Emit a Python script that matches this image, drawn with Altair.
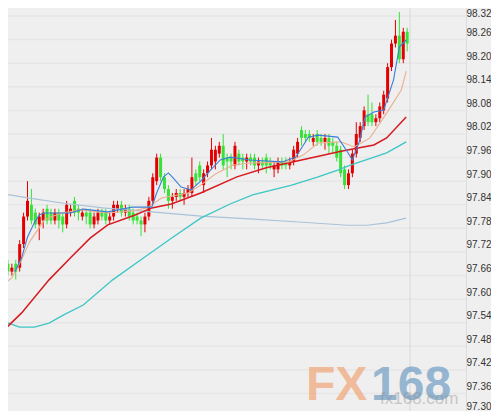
import altair as alt
import pandas as pd

# ---- candle data (index, open, high, low, close) ----
opens = [97.69, 97.67, 97.69, 97.68, 97.74, 97.81, 97.84, 97.82, 97.79, 97.80,
         97.83, 97.82, 97.80, 97.82, 97.81, 97.79, 97.82, 97.85, 97.83, 97.81,
         97.82, 97.82, 97.79, 97.80, 97.82, 97.82, 97.80, 97.81, 97.83, 97.84,
         97.82, 97.83, 97.82, 97.81, 97.80, 97.79, 97.81, 97.85, 97.90, 97.96,
         97.91, 97.88, 97.85, 97.86, 97.87, 97.86, 97.87, 97.87, 97.92, 97.94,
         97.89, 97.92, 97.94, 97.95, 97.97, 97.99, 97.96, 97.96, 97.94, 97.97,
         97.96, 97.95, 97.96, 97.96, 97.94, 97.95, 97.96, 97.95, 97.93, 97.93,
         97.95, 97.95, 97.94, 97.95, 97.97, 98.03, 98.02, 98.02, 98.00, 98.02,
         98.01, 98.00, 98.01, 98.00, 97.99, 97.98, 97.93, 97.89, 97.92, 97.97,
         98.01, 98.04, 98.07, 98.07, 98.05, 98.06, 98.08, 98.11, 98.19, 98.25,
         98.27, 98.21, 98.28]
highs = [97.70, 97.69, 97.70, 97.75, 97.82, 97.90, 97.88, 97.83, 97.82, 97.83,
         97.84, 97.83, 97.83, 97.83, 97.82, 97.85, 97.84, 97.86, 97.84, 97.83,
         97.83, 97.83, 97.82, 97.83, 97.83, 97.83, 97.82, 97.85, 97.85, 97.85,
         97.84, 97.84, 97.83, 97.82, 97.81, 97.82, 97.86, 97.92, 97.97, 97.97,
         97.92, 97.89, 97.87, 97.88, 97.88, 97.88, 97.89, 97.96, 97.93, 97.95,
         97.93, 97.95, 98.01, 97.99, 98.00, 98.02, 97.97, 97.97, 98.00, 97.98,
         97.97, 97.97, 97.97, 97.97, 97.96, 97.96, 97.97, 97.96, 97.95, 97.96,
         97.96, 97.96, 97.96, 97.99, 98.01, 98.04, 98.03, 98.03, 98.02, 98.03,
         98.02, 98.02, 98.02, 98.01, 98.00, 97.99, 97.94, 97.93, 97.98, 98.05,
         98.05, 98.09, 98.12, 98.10, 98.07, 98.10, 98.13, 98.20, 98.26, 98.31,
         98.33, 98.29, 98.29]
lows = [97.66, 97.66, 97.65, 97.67, 97.73, 97.80, 97.79, 97.78, 97.75, 97.78,
        97.79, 97.79, 97.79, 97.78, 97.77, 97.78, 97.81, 97.81, 97.80, 97.80,
        97.79, 97.78, 97.78, 97.79, 97.80, 97.79, 97.79, 97.80, 97.82, 97.81,
        97.81, 97.80, 97.79, 97.79, 97.76, 97.77, 97.80, 97.84, 97.89, 97.90,
        97.87, 97.83, 97.83, 97.85, 97.85, 97.84, 97.86, 97.86, 97.89, 97.90,
        97.87, 97.91, 97.93, 97.93, 97.96, 97.93, 97.91, 97.93, 97.93, 97.94,
        97.93, 97.93, 97.94, 97.93, 97.92, 97.93, 97.92, 97.93, 97.91, 97.92,
        97.93, 97.93, 97.93, 97.94, 97.96, 97.99, 98.00, 98.00, 97.99, 97.99,
        97.99, 97.98, 97.97, 97.97, 97.95, 97.91, 97.88, 97.88, 97.91, 97.96,
        98.00, 98.03, 98.04, 98.04, 98.04, 98.05, 98.07, 98.10, 98.18, 98.24,
        98.20, 98.20, 98.23]
closes = [97.67, 97.68, 97.67, 97.74, 97.81, 97.85, 97.80, 97.79, 97.81, 97.82,
          97.80, 97.80, 97.82, 97.80, 97.79, 97.84, 97.83, 97.82, 97.82, 97.82,
          97.81, 97.79, 97.81, 97.82, 97.81, 97.80, 97.81, 97.84, 97.84, 97.82,
          97.83, 97.81, 97.80, 97.80, 97.79, 97.81, 97.85, 97.91, 97.96, 97.91,
          97.88, 97.85, 97.86, 97.87, 97.86, 97.87, 97.88, 97.91, 97.90, 97.91,
          97.92, 97.94, 97.98, 97.98, 97.99, 97.94, 97.95, 97.95, 97.99, 97.95,
          97.95, 97.96, 97.95, 97.94, 97.95, 97.94, 97.94, 97.94, 97.94, 97.95,
          97.94, 97.94, 97.95, 97.98, 98.00, 98.01, 98.01, 98.01, 98.01, 98.00,
          98.00, 98.01, 97.99, 97.99, 97.96, 97.92, 97.89, 97.92, 97.97, 98.02,
          98.04, 98.08, 98.05, 98.05, 98.06, 98.09, 98.12, 98.19, 98.25, 98.27,
          98.21, 98.28, 98.25]

# ---- moving-average lines: (candle index, price) ----
ma_blue_i = [1.75, 3.5, 5, 6.75, 8, 9.25, 16, 19.25, 25.5, 31.75, 36.75, 38, 39.75, 41,
             42.25, 44.25, 46.75, 49.25, 51.75, 54.25, 56.75, 61.75, 70, 73.5, 75.5,
             76.75, 79.25, 84.25, 86.75, 88, 89.75, 91.25, 93.5, 96, 98.5, 100, 101.75]
ma_blue_p = [97.669, 97.705, 97.758, 97.794, 97.814, 97.819, 97.819, 97.829, 97.822,
             97.834, 97.834, 97.870, 97.911, 97.921, 97.908, 97.885, 97.878, 97.900,
             97.928, 97.954, 97.961, 97.954, 97.949, 97.961, 97.992, 98.012, 98.017,
             98.012, 97.974, 97.954, 98.000, 98.063, 98.076, 98.081, 98.157, 98.241,
             98.259]
ma_tan_i = [-0.75, 1, 3.5, 5.5, 7.25, 9.25, 11, 13.75, 18.5, 25.5, 31.75, 35.5, 39.25,
            46, 49.25, 53, 57.5, 61.75, 71.75, 75.5, 79.25, 85, 88.5, 92.5, 96.75,
            100.5, 101.75]
ma_tan_p = [97.641, 97.654, 97.700, 97.745, 97.771, 97.801, 97.809, 97.819, 97.827,
            97.819, 97.824, 97.832, 97.857, 97.870, 97.890, 97.918, 97.941, 97.946,
            97.949, 97.967, 97.997, 98.000, 97.987, 98.010, 98.073, 98.132, 98.180]
ma_red_i = [-0.75, 3.5, 10.5, 16, 21, 25.5, 32.5, 36.75, 41.75, 49.25, 58.5, 66, 75,
            84.25, 86.75, 93.5, 96.75, 101.75]
ma_red_p = [97.524, 97.565, 97.649, 97.705, 97.755, 97.789, 97.814, 97.832, 97.842,
            97.870, 97.911, 97.934, 97.954, 97.974, 97.979, 97.992, 98.010, 98.063]
ma_cyan_i = [-0.75, 3, 6.75, 10.5, 14.25, 19.25, 26.75, 34.25, 41.75, 49.25, 56.75,
             62.5, 72.5, 79.25, 84.25, 87.5, 96.75, 101.75]
ma_cyan_p = [97.542, 97.529, 97.529, 97.539, 97.560, 97.585, 97.649, 97.702, 97.755,
             97.806, 97.842, 97.865, 97.890, 97.911, 97.928, 97.941, 97.972, 98.000]
ma_gray_i = [-0.75, 6.75, 14.25, 24.25, 36.75, 49.25, 61.75, 74.25, 86.75, 91.75,
             96.75, 101.75]
ma_gray_p = [97.867, 97.855, 97.844, 97.832, 97.822, 97.811, 97.804, 97.796, 97.788,
             97.788, 97.794, 97.806]

tick_values = [97.30, 97.36, 97.42, 97.48, 97.54, 97.60, 97.66, 97.72, 97.78, 97.84,
               97.90, 97.96, 98.02, 98.08, 98.14, 98.20, 98.26, 98.32]

W, H = 466, 419
RED, GREEN = "#e40000", "#36e236"

candles = pd.DataFrame({"i": list(range(len(opens))), "o": opens, "h": highs,
                        "l": lows, "c": closes})
candles["up"] = ["up" if c >= o else "down" for o, c in zip(opens, closes)]

xs = alt.Scale(domain=[-0.75, 115.75], nice=False, zero=False)
ys = alt.Scale(domain=[97.2952, 98.3607], nice=False, zero=False)
col = alt.Color("up:N", scale=alt.Scale(domain=["up", "down"], range=[RED, GREEN]), legend=None)

# one identical axis definition for every layer so the merged axis keeps all labels
yaxis = alt.Axis(
    orient="right", values=tick_values, format=".2f", grid=False, domain=False,
    ticks=False, labelPadding=0, labelFontSize=10, labelFont="Liberation Sans",
    labelColor="#333333", labelOverlap=False, labelFlush=False, labelBound=False,
    labelOffset={"condition": [{"test": "datum.value > 98.3", "value": -3},
                               {"test": "datum.value < 97.31", "value": -11}],
                 "value": -7},
    zindex=1, title=None)

grid = alt.Chart(pd.DataFrame({"v": tick_values})).mark_rule(
    color="#e6e6e6", strokeWidth=1.5).encode(
    y=alt.Y("v:Q", scale=ys, axis=yaxis),
    x=alt.value(0), x2=alt.value(W))

vline = alt.Chart(pd.DataFrame({"a": [0]})).mark_rule(color="#d8d8d8", strokeWidth=1).encode(
    x=alt.value(410), y=alt.value(0), y2=alt.value(H))

wicks = alt.Chart(candles).mark_rule(strokeWidth=1).encode(
    x=alt.X("i:Q", scale=xs, axis=None),
    y=alt.Y("l:Q", scale=ys, axis=yaxis), y2="h:Q", color=col)

bodies = alt.Chart(candles).mark_bar(size=3, minBandSize=1).encode(
    x=alt.X("i:Q", scale=xs, axis=None),
    y=alt.Y("o:Q", scale=ys, axis=yaxis), y2="c:Q", color=col)


def ma_line(ii, pp, color, width):
    df = pd.DataFrame({"i": ii, "p": pp})
    return alt.Chart(df).mark_line(color=color, strokeWidth=width, clip=True).encode(
        x=alt.X("i:Q", scale=xs, axis=None), y=alt.Y("p:Q", scale=ys, axis=yaxis))


lines = [
    ma_line(ma_gray_i, ma_gray_p, "#a9c2d8", 1.1),
    ma_line(ma_cyan_i, ma_cyan_p, "#3cc6c6", 1.3),
    ma_line(ma_red_i, ma_red_p, "#d61a1f", 1.5),
    ma_line(ma_tan_i, ma_tan_p, "#e9b08e", 1.1),
    ma_line(ma_blue_i, ma_blue_p, "#3a7fd8", 1.1),
]

wm_fx = alt.Chart(pd.DataFrame({"t": ["FX"]})).mark_text(
    font="Liberation Sans", fontWeight="bold", fontSize=48, color="#f29a62", opacity=0.6,
    align="left", baseline="alphabetic").encode(
    text="t:N", x=alt.value(306), y=alt.value(400))
wm_168 = alt.Chart(pd.DataFrame({"t": ["168"]})).mark_text(
    font="Liberation Sans", fontWeight="bold", fontSize=48, color="#5b8fbd", opacity=0.6,
    align="left", baseline="alphabetic").encode(
    text="t:N", x=alt.value(371), y=alt.value(400))
wm_url = alt.Chart(pd.DataFrame({"t": ["fx168.com"]})).mark_text(
    font="Liberation Sans", fontSize=17, color="#8a8a8a", opacity=0.4,
    align="left", baseline="alphabetic").encode(
    text="t:N", x=alt.value(380), y=alt.value(404))

# gray chart background shows only in the right-hand price panel; the plot area is white
chart = alt.layer(grid, vline, wicks, bodies, *lines, wm_fx, wm_168, wm_url).properties(
    width=W, height=H,
    autosize=alt.AutoSizeParams(type="none"),
    padding={"left": -8, "top": -8, "right": 25, "bottom": -8},
).configure_view(stroke=None, fill="white").configure(background="#efefef")

chart.save("out.html", embed_options={"renderer": "svg", "actions": False})
